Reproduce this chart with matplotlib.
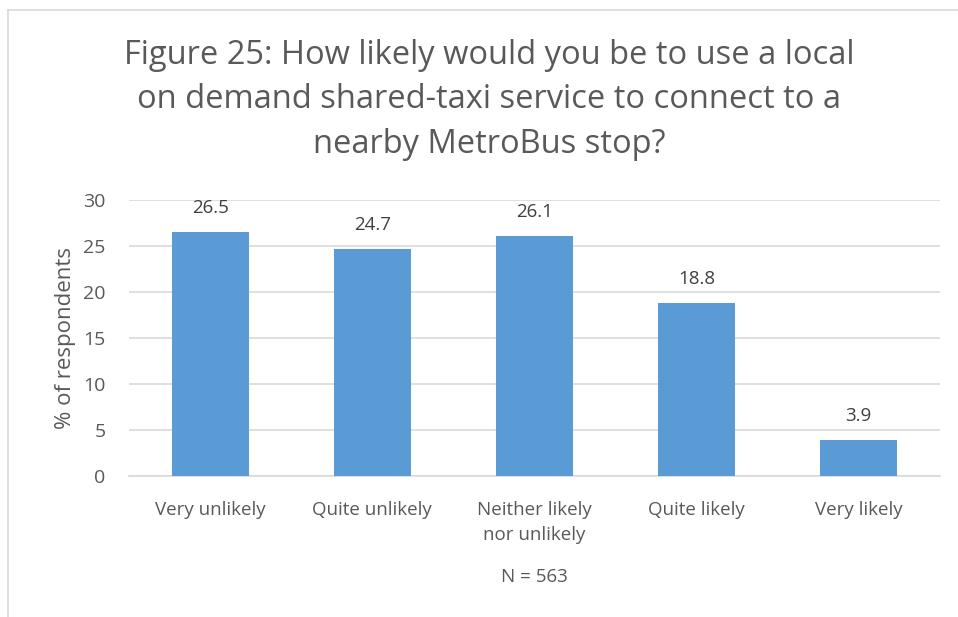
import matplotlib.pyplot as plt
from matplotlib.lines import Line2D
import numpy as np

BAR = '#5B9BD5'
GRID = '#D9D9D9'
TXT = '#595959'
LBL = '#404040'

plt.rcParams.update({
    'font.family': ['Open Sans', 'DejaVu Sans'],
    'figure.facecolor': 'white',
})

categories = ['Very unlikely', 'Quite unlikely', 'Neither likely\nnor unlikely',
              'Quite likely', 'Very likely']
percent = [26.5, 24.7, 26.1, 18.8, 3.9]
yticks = [0, 5, 10, 15, 20, 25, 30]

fig = plt.figure(figsize=(9.58, 6.17), dpi=100)
ax = fig.add_axes([0.1347, 0.2285, 0.8463, 0.4473])

x = np.arange(len(categories))
ax.bar(x, percent, width=0.475, color=BAR, zorder=3)
for xi, v in zip(x, percent):
    ax.text(xi, v + 2.6, f'{v:.1f}', ha='center', va='center', fontsize=13.5, color=LBL)

ax.set_xlim(-0.5, len(categories) - 0.5)
ax.set_ylim(0, 30)
ax.set_yticks(yticks)
ax.set_yticklabels([str(t) for t in yticks], fontsize=14, color=TXT)
ax.set_xticks(x)
ax.set_xticklabels(categories, fontsize=13.5, color=TXT, linespacing=1.5)
ax.tick_params(length=0, pad=17, axis='y')
ax.tick_params(length=0, pad=18, axis='x')
ax.grid(axis='y', color=GRID, lw=1.2, zorder=0)
for s in ['top', 'right', 'left']:
    ax.spines[s].set_visible(False)
ax.spines['bottom'].set_color(GRID)
ax.spines['bottom'].set_linewidth(1.2)
ax.set_ylabel('% of respondents', fontsize=16, color=TXT, labelpad=5)

fig.text(0.5104, 0.838,
         'Figure 25: How likely would you be to use a local\n'
         'on demand shared-taxi service to connect to a\n'
         'nearby MetroBus stop?',
         ha='center', va='center', fontsize=23.5, color=TXT, linespacing=1.47)
fig.text(0.5574, 0.065, 'N = 563', ha='center', va='center', fontsize=13.5, color=TXT)

# chart frame (left and top edges)
fig.add_artist(Line2D([8 / 958, 8 / 958], [0, 1 - 10 / 617], color=GRID, lw=1.2))
fig.add_artist(Line2D([8 / 958, 1], [1 - 10 / 617, 1 - 10 / 617], color=GRID, lw=1.2))

fig.savefig('out.png', dpi=100)
